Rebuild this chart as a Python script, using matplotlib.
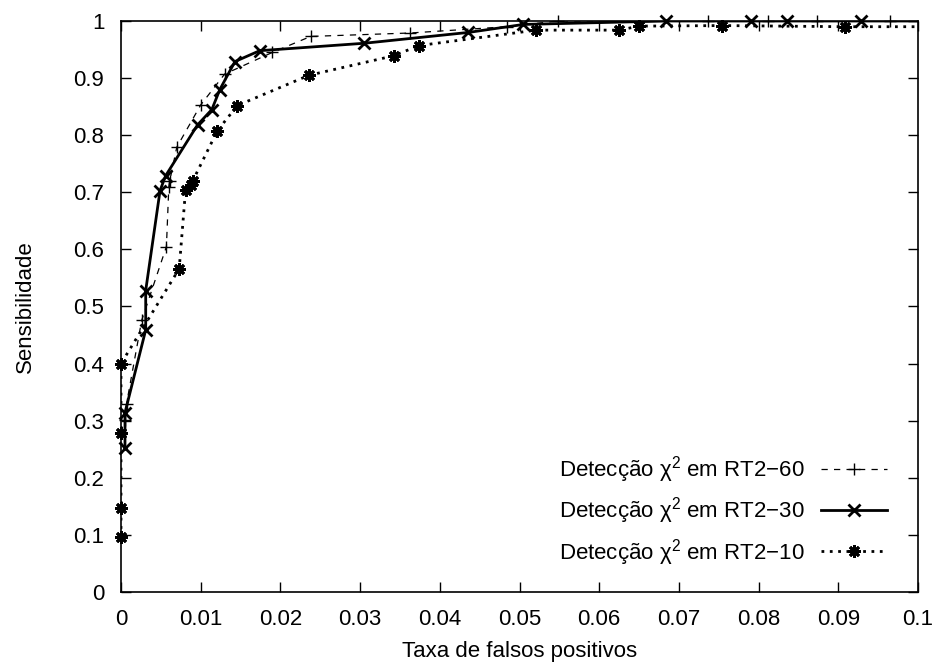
import numpy as np
import matplotlib
matplotlib.use("Agg")
import matplotlib.pyplot as plt

plt.rcParams['font.family'] = ['Liberation Sans', 'DejaVu Sans']
plt.rcParams['mathtext.fontset'] = 'custom'
plt.rcParams['mathtext.rm'] = 'Liberation Sans'
plt.rcParams['mathtext.it'] = 'Liberation Sans'

# RT2-60 (+, dashed)
x60 = [0.0005, 0.0007, 0.0026, 0.0057, 0.0060, 0.0061, 0.0070, 0.0100, 0.0130,
       0.0190, 0.0238, 0.0363, 0.0484, 0.0548, 0.0737, 0.0812, 0.0873, 0.0965, 0.105]
y60 = [0.301, 0.330, 0.476, 0.605, 0.710, 0.719, 0.779, 0.853, 0.907,
       0.945, 0.973, 0.979, 0.990, 1.000, 1.000, 1.000, 1.000, 1.000, 1.000]

# RT2-30 (x, solid)
x30 = [0.0005, 0.0005, 0.0031, 0.0031, 0.0049, 0.0056, 0.0096, 0.0114, 0.0124,
       0.0143, 0.0174, 0.0305, 0.0436, 0.0505, 0.0684, 0.0791, 0.0836, 0.0929, 0.105]
y30 = [0.252, 0.314, 0.459, 0.528, 0.703, 0.729, 0.818, 0.845, 0.880,
       0.929, 0.948, 0.961, 0.980, 0.994, 1.000, 1.000, 1.000, 1.000, 1.000]

# RT2-10 (asterisk, dotted)
x10 = [0.0, 0.0, 0.0, 0.0, 0.0073, 0.0081, 0.0088, 0.0090, 0.0121, 0.0146,
       0.0236, 0.0342, 0.0374, 0.0521, 0.0625, 0.0650, 0.0754, 0.0908, 0.105]
y10 = [0.096, 0.147, 0.278, 0.400, 0.566, 0.704, 0.712, 0.720, 0.808, 0.852,
       0.905, 0.939, 0.957, 0.984, 0.984, 0.991, 0.992, 0.990, 0.990]

labels = ['Detecção χ$^2$ em RT2−60', 'Detecção χ$^2$ em RT2−30', 'Detecção χ$^2$ em RT2−10']
xticks = [0, 0.01, 0.02, 0.03, 0.04, 0.05, 0.06, 0.07, 0.08, 0.09, 0.1]
xticklabels = ['0', '0.01', '0.02', '0.03', '0.04', '0.05', '0.06', '0.07', '0.08', '0.09', '0.1']
yticks = [0, 0.1, 0.2, 0.3, 0.4, 0.5, 0.6, 0.7, 0.8, 0.9, 1]
yticklabels = ['0', '0.1', '0.2', '0.3', '0.4', '0.5', '0.6', '0.7', '0.8', '0.9', '1']

FS = 16

fig = plt.figure(figsize=(9.39, 6.66), dpi=100)
ax = fig.add_axes([121/939, 1-592/666, (918-121)/939, (592-21)/666])
ax.set_xlim(0, 0.1)
ax.set_ylim(0, 1)

star = (8, 2, 0)
styles = [
    dict(ls=(0, (5, 5)), lw=0.9, marker='+', ms=9, mew=1.0),
    dict(ls='-', lw=2.0, marker='x', ms=8, mew=2.0),
    dict(ls=(0, (1, 2)), lw=2.0, marker=star, ms=9, mew=2.0),
]
series = [(x60, y60), (x30, y30), (x10, y10)]
handles = []
for (xs, ys), st, lab in zip(series, styles, labels):
    xs = np.asarray(xs); ys = np.asarray(ys)
    ax.plot(xs, ys, color='black', ls=st['ls'], lw=st['lw'], zorder=3)
    m = xs <= 0.1
    ax.plot(xs[m], ys[m], color='black', ls='none', marker=st['marker'],
            ms=st['ms'], mew=st['mew'], clip_on=False, zorder=4)
    h, = ax.plot([], [], color='black', ls=st['ls'], lw=st['lw'],
                 marker=st['marker'], ms=st['ms'], mew=st['mew'], label=lab)
    handles.append(h)

ax.set_xticks(xticks)
ax.set_xticklabels(xticklabels)
ax.set_yticks(yticks)
ax.set_yticklabels(yticklabels)
ax.tick_params(direction='in', top=True, right=True, length=7, width=1,
               labelsize=FS, pad=12)
for s in ax.spines.values():
    s.set_linewidth(1.2)

ax.set_xlabel('Taxa de falsos positivos', fontsize=FS, labelpad=8)
ax.set_ylabel('Sensibilidade', fontsize=FS, labelpad=27)

leg = ax.legend(handles=handles, loc='lower right', bbox_to_anchor=(0.9725, 0.027),
                frameon=False, fontsize=FS, markerfirst=False, handlelength=3.0,
                labelspacing=0.47, handletextpad=0.7, borderaxespad=0)
for t in leg.get_texts():
    t.set_ha('right')

fig.savefig('out.png', dpi=100)
